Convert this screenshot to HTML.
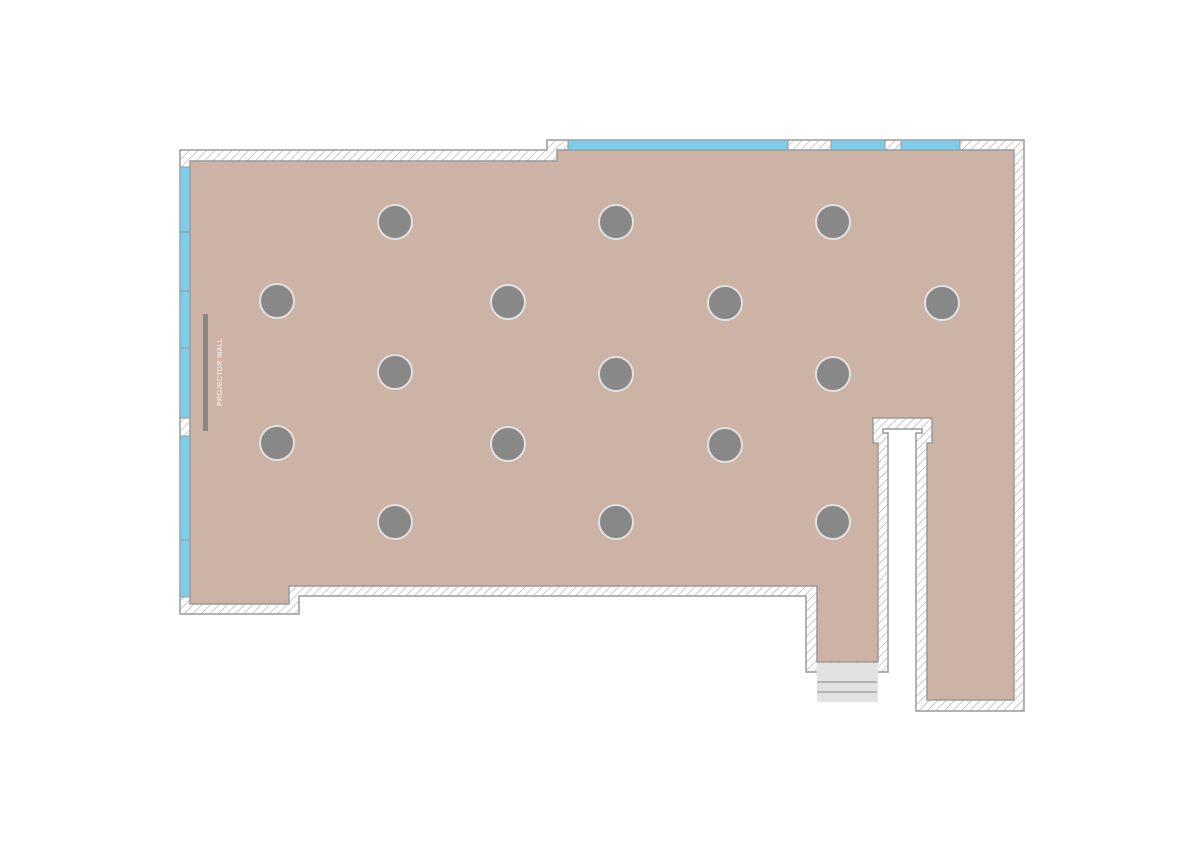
<!DOCTYPE html>
<html><head><meta charset="utf-8"><style>html,body{margin:0;padding:0;background:#fff}svg{display:block}</style></head>
<body>
<svg width="1204" height="850" viewBox="0 0 1204 850" xmlns="http://www.w3.org/2000/svg">
<defs>
<pattern id="h" patternUnits="userSpaceOnUse" width="6" height="6" patternTransform="rotate(45)">
<rect width="6" height="6" fill="#fff"/>
<line x1="0" y1="0" x2="0" y2="6" stroke="#a8a8a8" stroke-width="1.2"/>
</pattern>
</defs>
<rect width="1204" height="850" fill="#fff"/>
<!-- walls -->
<path d="M180,150 L547,150 L547,140 L1024,140 L1024,711 L916,711 L916,433 L922,433 L922,429 L883,429 L883,433 L888,433 L888,672 L806,672 L806,596 L299,596 L299,614 L180,614 Z" fill="url(#h)" stroke="#9a9a9a" stroke-width="1.5"/>
<!-- floor -->
<path d="M190,161 L557,161 L557,150 L1014,150 L1014,700 L927,700 L927,443 L932,443 L932,418 L873,418 L873,443 L878,443 L878,662 L817,662 L817,586 L289,586 L289,604 L190,604 Z" fill="#cdb2a6" stroke="#9a9a9a" stroke-width="1.5"/>
<!-- stairs -->
<rect x="817" y="663" width="61" height="39" fill="#e2e2e2"/>
<line x1="817" y1="682" x2="877" y2="682" stroke="#999" stroke-width="1.2"/>
<line x1="817" y1="692" x2="877" y2="692" stroke="#999" stroke-width="1.2"/>
<!-- windows left -->
<g fill="#7ecbea" stroke="#9a9a9a" stroke-width="1">
<rect x="180" y="167" width="10" height="65"/>
<rect x="180" y="232" width="10" height="59"/>
<rect x="180" y="291" width="10" height="57"/>
<rect x="180" y="348" width="10" height="70"/>
<rect x="180" y="436" width="10" height="104"/>
<rect x="180" y="540" width="10" height="57"/>
<!-- windows top -->
<rect x="568" y="140" width="220" height="10"/>
<rect x="831" y="140" width="54" height="10"/>
<rect x="901" y="140" width="59" height="10"/>
</g>
<!-- projector wall -->
<rect x="203" y="314" width="5" height="117" fill="#888"/>
<text x="0" y="0" transform="translate(222,372) rotate(-90)" text-anchor="middle" font-family="Liberation Sans, sans-serif" font-size="7" fill="#fff" letter-spacing="0.3">PROJECTOR WALL</text>
<!-- columns -->
<g fill="#888" stroke="#e2e2e2" stroke-width="2">
<circle cx="395" cy="222" r="17"/><circle cx="616" cy="222" r="17"/><circle cx="833" cy="222" r="17"/>
<circle cx="277" cy="301" r="17"/><circle cx="508" cy="302" r="17"/><circle cx="725" cy="303" r="17"/><circle cx="942" cy="303" r="17"/>
<circle cx="395" cy="372" r="17"/><circle cx="616" cy="374" r="17"/><circle cx="833" cy="374" r="17"/>
<circle cx="277" cy="443" r="17"/><circle cx="508" cy="444" r="17"/><circle cx="725" cy="445" r="17"/>
<circle cx="395" cy="522" r="17"/><circle cx="616" cy="522" r="17"/><circle cx="833" cy="522" r="17"/>
</g>
</svg>
</body></html>
